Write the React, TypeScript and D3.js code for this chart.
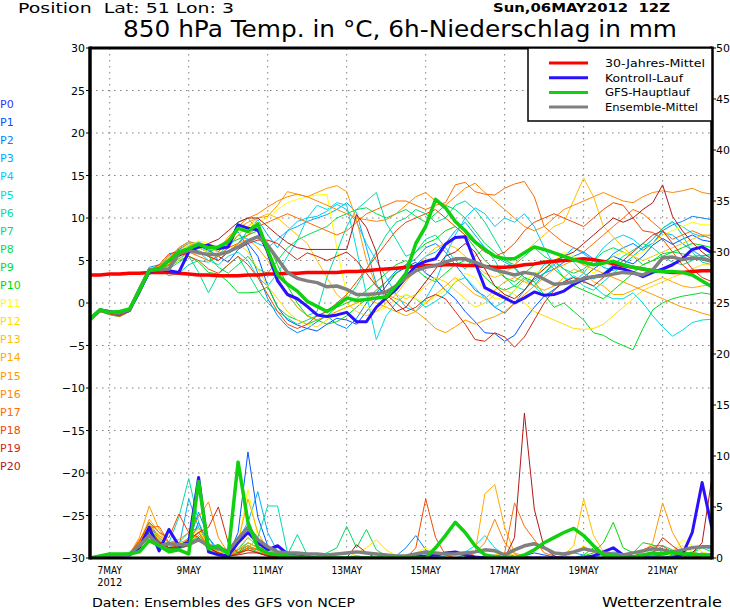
import React from "react";
import * as d3 from "d3";

// ---------- DATA (6-hourly steps from Sun 06 MAY 2012 12Z) ----------
const STEP_HOURS = 6;
const LEFT_TICKS = [-30, -25, -20, -15, -10, -5, 0, 5, 10, 15, 20, 25, 30];
const RIGHT_TICKS = [0, 5, 10, 15, 20, 25, 30, 35, 40, 45, 50];
const DATE_LABELS = ["7MAY", "9MAY", "11MAY", "13MAY", "15MAY", "17MAY", "19MAY", "21MAY"];
const DATE_HOURS = [12, 60, 108, 156, 204, 252, 300, 348];
const MEMBER_NAMES = ["P0","P1","P2","P3","P4","P5","P6","P7","P8","P9","P10","P11","P12","P13","P14","P15","P16","P17","P18","P19","P20"];
const MEMBER_COLORS = ["#3333ff","#0055ff","#0088ff","#00aaff","#00ccff","#00dddd","#00ddaa","#00dd88","#00dd55","#00dd22","#00dd00","#ffff00","#ffdd00","#ffc000","#ffaa00","#ff9900","#ff8800","#ff6a00","#f04a00","#d02a10","#b01818"];

const climTemp = [3.3,3.3,3.4,3.4,3.5,3.5, 3.6,3.6,3.6,3.5,3.4,3.3, 3.3,3.2,3.2,3.2,3.3,3.3, 3.4,3.4,3.5,3.5,3.6,3.6, 3.6,3.6,3.7,3.7,3.8,3.9, 4.0,4.1,4.2,4.3,4.4,4.4, 4.5,4.5,4.4,4.4,4.3,4.2, 4.2,4.3,4.5,4.6,4.8,4.9, 5.0,5.1,5.2,5.1,4.9,4.6, 4.4,4.2,4.0,3.8,3.7,3.6, 3.6,3.7,3.8,3.8];
const controlTemp = [-1.9,-0.8,-1.0,-1.2,-0.9,1.4, 3.7,3.9,3.8,3.6,6.0,6.6, 6.8,6.4,6.6,9.2,8.8,8.6, 6.0,2.6,1.0,0.5,-0.4,-1.4, -1.6,-1.4,-1.1,-2.2,-2.2,-0.5, 0.6,1.6,3.0,4.4,4.9,5.2, 6.9,7.7,7.8,4.8,1.8,1.2, 0.6,0.0,0.6,1.3,0.9,1.0, 1.4,2.2,2.8,3.1,3.3,4.2, 4.0,3.6,3.1,3.6,4.0,4.5, 5.2,6.3,6.6,5.9];
const gfsTemp = [-1.9,-0.8,-1.1,-1.0,-0.7,1.5, 3.8,4.0,5.0,6.0,6.4,6.9, 6.5,6.6,7.2,8.8,8.4,9.3, 6.2,3.3,2.2,1.4,0.2,-0.4, -1.0,-0.3,0.6,0.3,0.4,0.6, 0.7,2.0,3.5,7.0,9.0,12.2, 11.2,9.6,8.5,7.2,6.3,5.5, 5.2,5.2,5.9,6.6,6.3,5.9, 5.5,5.1,4.8,4.5,4.7,4.9, 4.5,4.2,4.0,3.8,3.7,3.7, 3.6,3.3,2.6,1.9];
const meanTemp = [-1.9,-0.9,-1.1,-1.2,-0.8,1.6, 3.9,3.9,4.0,5.8,6.2,5.9, 5.7,5.7,6.0,6.6,7.3,7.8, 6.8,5.2,3.6,2.9,2.6,2.4, 1.9,2.0,1.6,1.0,1.0,1.1, 1.3,2.0,3.0,3.8,4.2,4.4, 4.8,5.2,5.2,4.8,4.3,3.9, 3.6,3.3,3.6,3.4,2.8,2.2, 2.3,2.5,2.9,3.1,3.2,3.4, 3.6,3.5,3.3,3.9,5.3,5.4, 5.1,5.3,5.2,4.9];

const tempP1 = [-2.0,-0.9,-1.2,-1.4,-0.8,1.6, 3.9,4.2,5.6,6.3,7.0,6.7, 6.2,5.5,4.8,6.3,7.0,5.5, 2.0,-0.5,-2.0,-2.6,-3.0,-3.3, -2.5,-1.8,-2.0,-2.5,-1.0,0.5, 2.0,3.5,4.2,4.8,3.5,2.8, 1.5,0.5,-1.0,-2.2,-3.5,-3.6, -4.5,-3.8,-2.0,-0.5,0.8,1.6, 2.5,2.2,3.0,4.0,4.8,5.5, 5.0,4.6,5.5,6.8,7.6,6.9, 7.5,8.0,7.4,7.2];
const tempP2 = [-1.8,-0.7,-1.0,-1.3,-0.6,1.9, 4.2,4.5,5.0,6.5,7.2,7.0, 6.8,6.0,7.5,8.4,6.5,3.5, 0.5,-1.5,-2.8,-3.5,-3.0,-2.2, -1.5,-2.5,-3.0,-1.8,0.0,1.2, 2.5,3.8,4.5,5.2,6.5,7.0, 6.0,4.5,3.0,1.5,0.8,-0.5, -1.2,0.0,1.5,2.8,3.5,4.0, 4.8,5.5,6.0,5.2,4.5,5.8, 6.5,7.0,6.2,7.0,8.5,9.2, 9.6,10.2,10.0,9.8];
const tempP3 = [-2.1,-1.0,-1.3,-1.5,-0.9,1.2, 3.6,4.0,4.8,5.5,6.3,7.2, 6.5,5.0,6.0,7.0,8.5,9.8, 8.0,6.5,8.5,9.0,9.6,10.0, 10.4,11.0,11.8,10.6,6.5,2.2, 0.5,1.5,3.0,4.5,5.5,6.0, 7.0,8.5,9.5,8.0,6.5,5.5, 4.8,4.2,3.0,2.0,3.5,4.5, 5.5,6.5,5.8,5.0,4.2,3.8, 4.5,5.5,6.5,7.0,8.3,8.0, 7.0,6.2,5.5,5.0];
const tempP4 = [-1.9,-0.8,-1.1,-1.3,-0.7,1.5, 3.8,4.2,5.2,6.0,6.8,6.5, 6.0,5.5,6.5,8.0,7.5,7.0, 6.5,7.5,8.5,9.6,10.0,10.2, 10.8,11.6,11.0,9.5,7.0,5.0, 3.0,1.0,-0.5,-1.0,0.5,2.5, 5.5,8.0,10.0,11.2,10.5,9.0, 10.0,9.5,10.5,9.0,6.5,4.5, 3.0,2.5,3.5,5.0,6.5,7.5, 8.0,7.5,6.5,7.5,8.8,9.5, 9.0,8.2,7.8,8.0];
const tempP5 = [-2.0,-0.9,-1.3,-1.5,-1.0,1.0, 3.5,3.8,4.5,5.8,6.5,6.0, 5.0,4.5,5.5,6.0,5.0,3.0, 2.0,3.5,5.5,7.4,10.0,11.5, 11.0,11.8,11.5,6.3,1.0,-4.3, -1.5,0.0,1.0,0.5,-0.5,0.2, 1.0,2.5,3.0,1.8,0.5,-0.5, 0.2,1.5,2.8,2.0,0.8,1.5, 2.5,3.2,2.6,2.0,1.0,0.5, 0.5,1.2,0.0,-1.5,-2.8,-3.9, -3.2,-2.3,-2.0,-1.9];
const tempP6 = [-1.8,-0.8,-1.0,-1.2,-0.8,1.8, 4.0,4.0,3.2,3.5,4.5,5.0, 4.8,5.5,7.0,9.5,10.0,8.5, 6.0,3.0,1.0,-0.5,-1.5,-1.0, 3.0,6.0,9.0,11.0,12.0,13.0, 9.4,7.5,5.5,6.0,7.5,8.0, 6.5,5.0,4.0,5.5,6.5,5.0, 3.0,2.0,1.5,3.0,4.5,5.0, 4.0,3.0,2.0,1.5,2.5,3.5, 4.5,5.5,6.5,7.5,8.8,9.6, 8.0,6.0,4.8,4.5];
const tempP7 = [-2.2,-1.0,-1.4,-1.6,-1.0,1.3, 3.4,3.6,4.0,4.8,5.5,3.6, 1.2,3.4,4.5,5.5,3.5,1.5, 0.0,-1.0,-1.8,-2.5,-2.0,-1.5, -1.0,-0.5,0.5,2.0,4.0,6.0, 8.0,9.5,10.0,11.0,10.5,9.5, 10.0,11.5,12.0,11.0,9.5,7.5, 5.5,4.0,3.0,2.5,3.5,4.8, 5.5,4.8,3.5,2.8,3.5,4.5, 5.5,6.2,7.0,6.5,5.5,4.8, 4.5,5.0,5.5,5.8];
const tempP8 = [-2.0,-0.8,-1.2,-1.4,-0.9,1.4, 3.6,4.1,4.4,5.2,6.0,6.2, 5.5,4.2,3.5,4.5,5.5,4.0, 3.5,5.0,6.5,7.4,8.0,8.5, 9.0,10.0,10.5,11.0,11.2,10.5, 10.0,10.5,11.0,10.2,9.5,10.5, 11.5,11.0,10.0,8.5,7.0,6.0, 5.0,4.5,5.5,6.5,5.5,4.8, 4.0,3.5,4.0,5.0,6.0,6.5, 6.0,5.5,4.5,5.0,5.8,6.0, 5.8,5.5,5.6,5.5];
const tempP9 = [-1.9,-0.9,-1.1,-1.3,-0.7,1.7, 3.8,3.9,4.2,5.0,5.5,4.8, 3.6,3.4,2.5,1.2,1.2,1.3, 1.9,-0.5,-1.5,-2.0,-2.5,-2.0, -1.5,-0.5,0.0,0.5,1.5,2.5, 3.5,4.5,5.0,4.0,3.0,2.5, 3.5,4.5,5.0,4.5,3.0,2.0, 1.5,2.0,3.0,2.5,1.0,-0.5, 0.0,-1.0,-2.0,-3.5,-3.8,-4.5, -5.0,-5.5,-3.0,-0.8,0.0,0.5, 0.8,1.0,1.2,1.0];
const tempP10 = [-2.0,-0.8,-1.2,-1.4,-0.8,1.5, 3.7,4.0,4.5,5.5,6.2,6.5, 6.0,6.5,7.0,7.5,8.0,8.5, 7.0,4.5,2.0,0.0,-1.5,-2.0, -2.5,-2.2,-1.5,-0.5,0.5,1.5, 2.5,3.5,4.5,6.0,7.0,7.5, 8.5,9.0,8.0,6.5,5.0,4.0, 3.0,2.5,3.5,4.5,5.0,4.0, 3.0,2.0,1.5,1.0,0.5,1.5, 2.5,3.5,4.5,5.0,5.5,6.0, 6.5,7.0,6.8,6.5];
const tempP11 = [-2.0,-0.9,-1.1,-1.3,-0.8,1.5, 3.8,4.2,5.0,6.0,6.8,7.3, 7.0,6.5,7.5,8.5,9.0,9.5, 10.0,11.0,11.8,12.2,12.5,12.7, 12.8,6.5,1.0,0.0,-0.5,-1.0, -0.5,0.5,1.0,0.5,0.0,0.8, 1.5,2.5,3.5,3.0,1.5,0.5, 0.5,1.5,2.5,3.5,4.0,5.0, 6.0,5.5,4.5,3.5,4.5,5.5, 6.0,5.5,6.0,7.0,8.0,8.5, 9.0,9.5,9.2,9.2];
const tempP12 = [-2.1,-1.0,-1.3,-1.5,-0.9,1.2, 3.5,3.8,4.2,5.0,6.0,6.5, 6.0,5.5,6.5,7.0,6.0,4.0, 2.0,0.5,-1.0,-2.0,-2.5,-2.8, -2.0,-1.0,-0.5,0.0,0.5,1.0, 1.5,1.0,0.5,1.0,2.0,3.0, 2.5,1.5,0.5,-0.5,0.0,1.0, 1.5,1.0,0.0,-1.0,-1.5,-2.0, -2.5,-3.0,-3.1,-3.0,-2.5,-1.5, -0.5,0.5,1.5,2.0,2.5,3.0, 3.5,4.0,4.5,4.5];
const tempP13 = [-1.8,-0.8,-1.0,-1.2,-0.6,1.8, 4.1,4.3,5.5,6.2,7.0,6.8, 6.5,6.0,7.0,8.0,9.0,10.0, 10.5,10.0,9.0,8.0,7.0,5.0, 3.0,1.0,0.0,-1.0,-1.5,-1.0, 0.0,1.0,2.5,4.0,5.5,6.5, 7.0,6.5,5.5,4.5,3.5,3.0, 3.5,4.5,6.0,7.0,8.0,9.0, 9.5,12.1,14.7,12.5,9.0,7.8, 6.5,5.5,5.0,5.5,6.0,6.5, 7.0,7.5,8.0,8.0];
const tempP14 = [-2.0,-0.9,-1.2,-1.4,-0.8,1.5, 3.7,4.1,4.8,5.6,6.3,6.0, 5.5,5.0,6.0,7.0,7.5,6.5, 5.0,3.0,1.0,-0.5,-1.5,-2.0, -1.5,-1.0,-0.5,0.0,0.5,0.0, -0.5,-1.0,-1.5,-1.0,0.0,1.0, 2.0,3.0,2.0,1.0,0.5,1.5, 2.5,3.0,2.5,2.0,1.5,2.0, 3.0,4.0,3.5,2.5,2.0,1.0, 1.0,1.5,2.0,2.5,3.0,2.5, 2.0,1.8,2.0,2.2];
const tempP15 = [-1.9,-0.8,-1.1,-1.3,-0.7,1.6, 3.9,4.4,5.3,6.5,7.2,6.9, 6.6,6.2,7.8,8.8,9.5,10.0, 10.2,11.5,13.1,12.8,12.5,13.0, 13.5,13.8,13.1,9.8,5.0,2.0, 1.0,0.5,0.0,-1.0,-1.9,-3.0, -3.5,-2.8,-2.0,-2.5,-2.0,-1.6, -1.0,0.0,1.0,2.0,3.0,4.0, 4.5,5.0,4.5,4.0,3.5,3.0, 2.5,2.0,1.5,1.0,0.5,0.0, -0.5,-0.8,-1.2,-1.5];
const tempP16 = [-2.0,-0.9,-1.2,-1.5,-0.8,1.4, 3.6,4.0,4.6,5.5,6.5,7.0, 6.8,6.5,7.5,9.0,10.0,10.5, 11.3,12.0,12.5,12.8,12.5,12.0, 11.5,11.0,10.5,10.0,9.8,9.6, 9.8,10.5,11.5,12.5,13.0,12.0, 11.5,12.5,13.5,14.1,13.0,12.0, 11.0,10.0,9.0,8.5,9.0,10.0, 11.0,11.5,12.0,12.5,13.0,12.5, 12.0,11.8,12.5,13.0,13.2,13.0, 13.2,13.5,13.0,12.8];
const tempP17 = [-2.1,-1.0,-1.3,-1.6,-1.0,1.1, 3.5,3.9,4.5,5.5,6.0,5.5, 5.0,5.5,6.5,7.0,8.0,9.0, 9.5,10.0,10.5,10.0,9.5,9.0, 8.5,8.0,8.5,9.5,10.5,11.0, 11.5,12.0,12.0,11.5,11.0,11.5, 11.8,13.9,14.2,13.1,12.8,12.7, 13.5,14.0,14.3,12.5,9.0,8.0, 7.1,6.5,6.0,7.0,8.0,9.0, 10.0,11.0,10.5,9.5,8.5,7.5, 8.0,8.5,8.0,7.5];
const tempP18 = [-1.9,-0.8,-1.0,-1.3,-0.7,1.7, 3.8,4.5,5.8,6.0,5.5,5.0, 4.0,3.5,4.5,5.5,4.5,3.0, 1.0,-1.0,-2.5,-3.0,-2.5,-1.5, -1.0,0.0,1.0,2.5,4.0,5.5, 7.0,8.5,9.5,10.0,10.5,11.0, 10.0,9.0,8.0,7.0,6.0,5.5, 6.0,7.0,8.5,9.5,10.0,10.5, 10.0,9.5,9.0,10.0,11.0,11.8, 11.5,10.0,8.5,8.3,7.5,6.0, 4.5,3.5,2.5,2.0];
const tempP19 = [-2.0,-0.9,-1.3,-1.5,-0.9,1.3, 3.7,4.0,5.0,6.0,6.5,6.0, 5.5,5.0,6.0,6.5,7.0,7.4, 7.4,7.0,6.0,5.1,5.9,5.5, 5.0,5.5,6.0,5.0,3.5,2.0, 1.0,0.0,-1.0,-0.5,0.5,1.0, 0.5,-1.0,-2.5,-4.3,-4.5,-3.5, -4.0,-5.2,-4.0,-2.0,0.0,1.5, 2.5,3.0,2.5,2.0,3.0,4.0, 5.0,6.0,7.0,8.0,8.5,7.0, 5.5,4.0,3.0,2.5];
const tempP20 = [-1.9,-0.8,-1.1,-1.4,-0.8,1.5, 3.8,4.2,4.8,5.5,6.0,6.5, 7.0,7.5,8.5,9.5,10.0,10.0, 9.0,8.0,7.1,6.5,6.3,6.3, 6.3,6.3,6.3,10.4,8.9,6.0, 0.4,-1.0,-0.5,1.0,2.5,4.0, 5.5,6.0,7.0,6.0,4.0,2.0, 1.0,0.5,1.5,3.0,4.0,5.0, 5.5,6.0,7.0,8.0,9.0,10.0, 9.5,10.0,11.0,11.8,13.9,10.2, 8.5,7.1,6.0,5.1];

const controlPrec = [0,0.1,0.2,0.3,0.3,1.0, 3.0,0.7,2.8,1.2,1.5,7.9, 0.6,0.3,0.2,1.5,2.5,1.5, 0.8,1.2,0.4,0.2,0.1,0, 0,0,0,0,0,0, 0,0,0,0.1,0.2,0.3, 0.5,0.6,0.3,0.1,0,0, 0,0,0,0,0,0, 0,0,0,0.2,0.6,1.0, 0.3,0.1,0,0,0,0, 0.3,2.5,7.4,2.9];
const gfsPrec = [0,0.2,0.4,0.4,0.4,0.6, 1.7,1.2,0.6,0.8,0.4,7.5, 0.9,1.2,0.4,9.4,3.5,1.0, 0.5,0.3,0.2,0.1,0,0, 0,0,0,0,0,0, 0,0,0,0,0,1.0, 2.2,3.5,2.5,1.2,0.3,0.1, 0,0,0.3,0.8,1.5,2.0, 2.5,2.9,2.2,1.2,0.3,0.2, 0.1,0.1,0.3,0.5,0.4,0.6, 0.4,0.4,0.3,0.3];
const meanPrec = [0,0.1,0.2,0.3,0.4,1.2, 2.2,1.2,1.4,1.3,1.3,1.8, 1.2,0.9,0.7,1.9,3.0,1.8, 1.1,0.6,0.5,0.5,0.4,0.4, 0.3,0.4,0.5,0.6,0.5,0.4, 0.3,0.2,0.2,0.4,0.6,0.5, 0.4,0.4,0.5,0.6,0.8,0.7, 0.3,0.8,1.2,1.4,1.0,0.5, 0.4,0.6,0.9,0.7,0.5,0.4, 0.3,0.5,0.7,0.9,0.8,0.6, 0.8,1.0,1.1,1.1];

const precP1 = [0,0.1,0.2,0.3,0.3,1.5, 3.2,1.8,1.0,1.4,1.2,3.5, 1.0,0.4,0.2,2.5,10.4,4.0, 1.2,0.5,0.3,0.2,0.1,0, 0,0,0.1,0.2,0.1,0, 0,0,0,0.2,0.5,0.3, 0.1,0,0,0,0,0, 0,0,0.2,0.5,0.3,0.1, 0,0,0,0,0,0, 0,0,0.2,0.3,0.2,0.1, 0,0.2,0.5,0.4];
const precP2 = [0,0.1,0.2,0.3,0.4,1.6, 3.5,2.0,1.2,1.0,1.5,4.5, 2.0,0.5,0.3,1.5,3.0,1.5, 0.8,0.4,0.2,0.1,0,0, 0,0,0,0,0.1,0, 0,0.2,1.0,2.2,0.8,0.2, 0,0,0,0,0.2,0.3, 0.1,0,0,0,0,0, 0,0,0.1,0.3,0.2,0, 0,0,0,0,0,0.2, 0.4,0.6,0.3,0.2];
const precP3 = [0,0.1,0.2,0.3,0.3,1.4, 3.0,1.5,0.8,1.0,5.8,3.0, 2.0,0.8,0.5,1.8,3.5,6.5, 2.5,0.6,0.2,0.1,0,0, 0,0,0,0,0,0.1, 0.2,0.1,0,0,0,0, 0,0,0.3,0.6,0.4,0.2, 0,0,0,0,0,0, 0.2,0.5,0.3,0.1,0,0, 0,0,0,0.2,0.4,0.3, 0.2,0.5,1.2,0.8];
const precP4 = [0,0.1,0.2,0.2,0.3,1.2, 3.0,1.8,1.0,1.2,2.0,3.0, 1.5,0.6,0.3,0.8,1.5,1.0, 0.5,0.2,0.1,0,0,0, 0,0,0,0,0,0, 0,0,0,0,0,0, 0.2,0.4,0.2,0.1,0,0, 0,0,0,0,0,0, 0,0,0,0,0.3,0.6, 0.4,0.2,0,0,0,0.2, 0.5,0.3,0.2,0.1];
const precP5 = [0,0.1,0.2,0.3,0.3,1.0, 2.5,1.5,1.0,1.2,1.5,2.0, 1.0,0.5,0.2,0.5,1.0,0.8, 0.4,0.2,0,0,0,0, 0,0,0,0,0,0, 0,0,0,0,0.1,0.3, 0.5,0.5,0.6,1.2,2.2,1.0, 0.3,0.1,0,0,0,0, 0,0,0,0,0,0, 0,0,0,0,0,0, 0.2,0.5,0.3,0.2];
const precP6 = [0,0.1,0.2,0.3,0.4,1.5, 3.0,1.6,1.5,4.0,7.8,3.5, 1.5,0.8,0.3,0.5,1.0,2.0, 5.1,5.1,0.5,0.2,0.1,0, 0,0,0,0,0,0, 0,0,0,0,0,0, 0,0,0,0,0,0, 0,0,0,0,0,0, 0,0,0,0,0,0, 0,0,0,0,0,0.3, 0.6,0.4,0.2,0.1];
const precP7 = [0,0.1,0.2,0.3,0.3,1.3, 2.8,1.5,1.2,1.5,2.5,3.0, 1.2,0.5,0.2,0.5,1.5,1.0, 0.5,0.3,0.3,2.3,0.3,0, 0,0,0,0,0,0, 0,0,0,0,0,0, 0,0,0,0,0,0, 0,0,0,0,0,0, 0,0,0,0,0,0, 0,0,0.3,0.2,0.1,0, 0,0,0.2,0.4];
const precP8 = [0,0.1,0.2,0.3,0.4,1.4, 2.6,1.4,0.8,1.0,1.5,2.5, 1.0,0.4,0.2,0.8,2.0,1.2, 0.5,0.2,0,0,0,0.2, 0.5,1.0,3.1,1.0,2.8,0.8, 0.2,0,0,0,0,0, 0,0,0,0,0,0, 0,0,0,0,0,0, 0,0,0,0,0,0, 0,0,0,0.5,1.2,0.8, 0.3,0.5,1.0,0.6];
const precP9 = [0,0.1,0.2,0.3,0.3,1.0, 2.0,1.2,0.8,0.9,1.2,2.0, 0.8,0.3,0.1,0.4,1.0,0.6, 0.3,0.1,0,0,0,0, 0,0,0,0,0,0, 0,0,0,0,0,0, 0,0,0,0,0,0, 0,0,0,0,0,0, 0,0,0.3,1.0,0.5,0.3, 0.2,0,0,0,0,0.2, 0.3,0.2,0.1,0.1];
const precP10 = [0,0.1,0.2,0.3,0.3,1.2, 2.2,1.3,0.9,1.0,1.4,2.2, 1.0,0.4,0.2,0.6,1.2,0.8, 0.4,0.2,0,0,0,0, 0,0,0,0,0,0, 0,0,0,0,0,0, 0,0,0,0,0,0.2, 0.4,0.2,0,0,0,0, 0,0,0.2,0.5,1.5,3.5, 1.0,0.5,1.5,1.3,0.5,0.3, 0.2,0.2,0.1,0.1];
const precP11 = [0,0.1,0.2,0.3,0.3,1.5, 3.5,2.2,1.2,1.4,1.8,2.8, 1.2,0.6,0.3,1.5,6.7,2.0, 0.8,0.3,0.1,0,0,0, 0,0,0,0,0,0, 0,0,0,0.5,1.0,0.5, 0.2,0,0,0,0,0, 0,0,0,0,0,0, 0,0,0,0,0,0, 0,0,0,0,0,0.5, 1.8,1.2,0.6,0.3];
const precP12 = [0,0.1,0.2,0.3,0.4,1.3, 3.0,1.8,1.0,1.2,1.5,2.5, 1.0,0.5,0.2,0.8,1.5,1.0, 0.5,0.2,0,0,0,0, 0,0,0,0.5,1.0,1.8, 0.8,0.2,0,0,0,0, 0,0,0,0,0,0.3, 0.5,0.3,0,0,0,0, 0,0.5,1.2,0.5,0.2,0, 0,0,0,0,0.2,0.8, 1.2,0.6,0.3,0.4];
const precP13 = [0,0.1,0.2,0.3,0.3,1.4, 3.3,2.0,1.0,1.3,1.6,2.6, 1.2,0.5,0.2,1.0,2.0,1.2, 0.5,0.2,0,0,0,0, 0,0,0,0,0,0, 0,0,0,0,0,0, 0,0,0,0,0,0, 0,0,0,0,0,0, 0.3,1.2,5.8,2.2,0.6,0.2, 0,0,0,0,0,0, 0,0,0,0];
const precP14 = [0,0.1,0.2,0.3,0.4,1.6, 3.8,2.5,1.5,1.5,1.8,3.0, 1.5,0.6,0.3,1.5,5.8,2.5, 0.8,0.3,0.1,0,0,0, 0,0,0,0,0,0, 0,0,0,0,0,0, 0,0,0,0.5,6.3,7.2, 3.0,0.5,0.2,0,0,0, 0,0,0,0,0,0, 0,0,0,0,0,0, 0,0,0,0];
const precP15 = [0,0.1,0.2,0.3,0.4,2.0, 5.1,2.8,1.5,1.2,1.5,2.5, 1.2,0.5,0.2,0.8,1.5,1.0, 0.4,0.2,0,0,0,0, 0,0,0,0,0,0, 0,0,0,0,0,0, 0,0,0,0,0,0, 0,0,0,0,0,0, 0,0,0,0,0,0, 0,0.2,0.5,1.5,5.4,2.5, 0.8,0.3,0.2,0.4];
const precP16 = [0,0.1,0.2,0.3,0.3,1.5, 3.0,2.2,1.5,1.8,2.5,4.0, 5.5,2.0,0.5,0.8,1.2,0.8, 0.3,0.1,0,0,0,0, 0,0,0,0,0,0, 0,0,0,0,0,0, 0,0,0,0.5,1.5,3.8, 1.5,0.4,0,0,0,0, 0,0,0,0,0,0, 0,0,0,0,0,0, 0,0,0,0];
const precP17 = [0,0.1,0.2,0.3,0.3,1.8, 3.0,3.1,1.5,1.2,1.5,2.5, 1.0,0.5,0.2,0.5,1.0,0.8, 0.3,0.1,0,0,0,0, 0,0,0,0,0,0, 0,0,0,0,0,0, 0,0,0,0,0,0, 0.5,5.4,3.1,1.8,0.5,0.2, 0,0,0,0,0,0, 0,0,0,0,0,0, 0,0,0,0];
const precP18 = [0,0.1,0.2,0.3,0.4,1.6, 3.5,2.5,2.0,4.3,2.5,2.0, 1.0,0.5,0.2,0.4,0.8,0.5, 0.2,0.1,0,0,0,0, 0,0,0,0,0,0, 0,0,0,1.0,5.8,2.0, 0.3,0,0,0,0,0, 0,0,0,0,0,0, 0,0,0,0,0,0, 0,0,0.8,1.2,1.2,0.5, 0,0,0,0];
const precP19 = [0,0.1,0.2,0.3,0.3,1.2, 2.8,1.6,1.0,1.2,1.8,2.5, 3.0,5.0,1.5,0.5,0.8,0.5, 0.2,0.1,0,0,0,0, 0,0,0,0,0,0, 0,0,0,0,0,0, 0,0,0,0,0,0, 0,0,0,0,0,0, 0,0,0,0,0,0, 0,0,0,0.5,2.0,1.2, 0.5,0.2,0.1,0.1];
const precP20 = [0,0.1,0.2,0.3,0.3,1.0, 2.5,1.5,1.0,1.0,1.2,2.0, 1.0,0.5,0.2,0.3,0.5,0.5, 0.2,0.1,0,0,0,0, 0,0,0,1.3,0.5,0, 0,0,0,0,0,0, 0,0,0,0,0,0, 0,2.0,14.2,4.8,1.0,0.2, 0,0,0,0,0,0, 0,0,0,0,0,0, 0,0.5,1.5,7.9];

const MEMBER_TEMPS = [tempP1,tempP2,tempP3,tempP4,tempP5,tempP6,tempP7,tempP8,tempP9,tempP10,tempP11,tempP12,tempP13,tempP14,tempP15,tempP16,tempP17,tempP18,tempP19,tempP20];
const MEMBER_PRECS = [precP1,precP2,precP3,precP4,precP5,precP6,precP7,precP8,precP9,precP10,precP11,precP12,precP13,precP14,precP15,precP16,precP17,precP18,precP19,precP20];

const LEGEND_LABELS = ["30-Jahres-Mittel", "Kontroll-Lauf", "GFS-Hauptlauf", "Ensemble-Mittel"];
const LEGEND_COLORS = ["#ff0000", "#2a10ff", "#10d010", "#808080"];
const LEGEND_WIDTHS = [100, 78, 85, 93];

// ---------- CHART ----------
const W = 730, H = 609;
const PL = 90, PR = 712, PT = 48, PB = 558;
const FONT = "DejaVu Sans";

export default function App() {
  const x = d3.scaleLinear().domain([0, 378]).range([PL, PR]);
  const yT = d3.scaleLinear().domain([-30, 30]).range([PB, PT]);
  const yP = d3.scaleLinear().domain([0, 50]).range([PB, PT]);
  const lineT = d3.line<number>().x((_, i) => x(i * STEP_HOURS)).y((d) => yT(d));
  const lineP = d3.line<number>().x((_, i) => x(i * STEP_HOURS)).y((d) => yP(d));

  return (
    <svg width={W} height={H} style={{ position: "absolute", left: 0, top: 0, background: "#fff" }} fontFamily={FONT}>
      <rect x={0} y={0} width={W} height={H} fill="#fff" />
      <defs>
        <clipPath id="plot">
          <rect x={PL} y={PT} width={PR - PL} height={PB - PT} />
        </clipPath>
      </defs>

      {/* header */}
      <text x={18} y={12.5} fontSize={14} textLength={216} lengthAdjust="spacingAndGlyphs" style={{ whiteSpace: "pre" }}>{"Position  Lat: 51 Lon: 3"}</text>
      <text x={493} y={12} fontSize={13} fontWeight="bold" textLength={177} lengthAdjust="spacingAndGlyphs" style={{ whiteSpace: "pre" }}>{"Sun,06MAY2012  12Z"}</text>
      <text x={123} y={36.5} fontSize={22.5} textLength={554} lengthAdjust="spacingAndGlyphs">850 hPa Temp. in °C, 6h-Niederschlag in mm</text>

      {/* grid */}
      <g stroke="#808080" strokeWidth={1}>
        {LEFT_TICKS.filter((v) => v > -30 && v < 30).map((v) => (
          <line key={"h" + v} x1={PL} x2={PR} y1={yT(v)} y2={yT(v)} strokeDasharray="1.5,4.5" />
        ))}
        {DATE_HOURS.map((h) => (
          <line key={"v" + h} x1={x(h)} x2={x(h)} y1={PT} y2={PB} strokeDasharray="1.5,4.5" />
        ))}
      </g>

      {/* data */}
      <g clipPath="url(#plot)" fill="none" strokeLinejoin="round">
        {MEMBER_TEMPS.map((s, i) => (
          <path key={"t" + i} d={lineT(s) || ""} stroke={MEMBER_COLORS[i + 1]} strokeWidth={1} />
        ))}
        {MEMBER_PRECS.map((s, i) => (
          <path key={"p" + i} d={lineP(s) || ""} stroke={MEMBER_COLORS[i + 1]} strokeWidth={1} />
        ))}
        <path d={lineT(climTemp) || ""} stroke="#ff0000" strokeWidth={3.5} />
        <path d={lineT(controlTemp) || ""} stroke="#2a10ff" strokeWidth={3} />
        <path d={lineP(controlPrec) || ""} stroke="#2a10ff" strokeWidth={3} />
        <path d={lineT(meanTemp) || ""} stroke="#808080" strokeWidth={3.5} />
        <path d={lineP(meanPrec) || ""} stroke="#808080" strokeWidth={3.5} />
        <path d={lineT(gfsTemp) || ""} stroke="#10d010" strokeWidth={3.5} />
        <path d={lineP(gfsPrec) || ""} stroke="#10d010" strokeWidth={3.5} />
      </g>

      {/* frame */}
      <g stroke="#000" fill="none">
        <line x1={PL} x2={PL} y1={PT - 1.5} y2={PB + 1.5} strokeWidth={3.5} />
        <line x1={PR} x2={PR} y1={PT - 1.5} y2={PB + 1.5} strokeWidth={3.5} />
        <line x1={PL} x2={PR} y1={PT} y2={PT} strokeWidth={3} />
        <line x1={PL} x2={PR} y1={PB} y2={PB} strokeWidth={3} />
      </g>

      {/* left axis */}
      {LEFT_TICKS.map((v) => (
        <g key={"lt" + v}>
          <line x1={PL - 4} x2={PL} y1={yT(v)} y2={yT(v)} stroke="#000" />
          <text x={85} y={yT(v) + 4} fontSize={11} textAnchor="end">{v < 0 ? "−" + Math.abs(v) : String(v)}</text>
        </g>
      ))}
      {/* right axis */}
      {RIGHT_TICKS.map((v) => (
        <g key={"rt" + v}>
          <line x1={PR} x2={PR + 4} y1={yP(v)} y2={yP(v)} stroke="#000" />
          <text x={716} y={yP(v) + 4} fontSize={11}>{String(v)}</text>
        </g>
      ))}
      {/* x labels */}
      {DATE_LABELS.map((l, i) => (
        <text key={l} x={x(DATE_HOURS[i])} y={574} fontSize={10} textAnchor="middle" textLength={l.length * 6.1} lengthAdjust="spacingAndGlyphs">{l}</text>
      ))}
      <text x={x(DATE_HOURS[0])} y={586} fontSize={10} textAnchor="middle" textLength={25} lengthAdjust="spacingAndGlyphs">2012</text>

      {/* member labels */}
      {MEMBER_NAMES.map((n, i) => (
        <text key={n} x={0} y={108 + i * 18.1} fontSize={11} fill={MEMBER_COLORS[i]}>{n}</text>
      ))}

      {/* legend */}
      <rect x={528} y={48} width={PR - 528} height={73} fill="#fff" stroke="#000" strokeWidth={1.5} />
      {LEGEND_LABELS.map((label, i) => (
        <g key={label}>
          <line x1={549} x2={588} y1={63 + i * 14.7} y2={63 + i * 14.7} stroke={LEGEND_COLORS[i]} strokeWidth={3} />
          <text x={605} y={67 + i * 14.7} fontSize={11} textLength={LEGEND_WIDTHS[i]} lengthAdjust="spacingAndGlyphs">{label}</text>
        </g>
      ))}

      {/* footer */}
      <text x={92} y={607} fontSize={12} textLength={263} lengthAdjust="spacingAndGlyphs">Daten: Ensembles des GFS von NCEP</text>
      <text x={602} y={607} fontSize={14} textLength={120} lengthAdjust="spacingAndGlyphs">Wetterzentrale</text>
    </svg>
  );
}
